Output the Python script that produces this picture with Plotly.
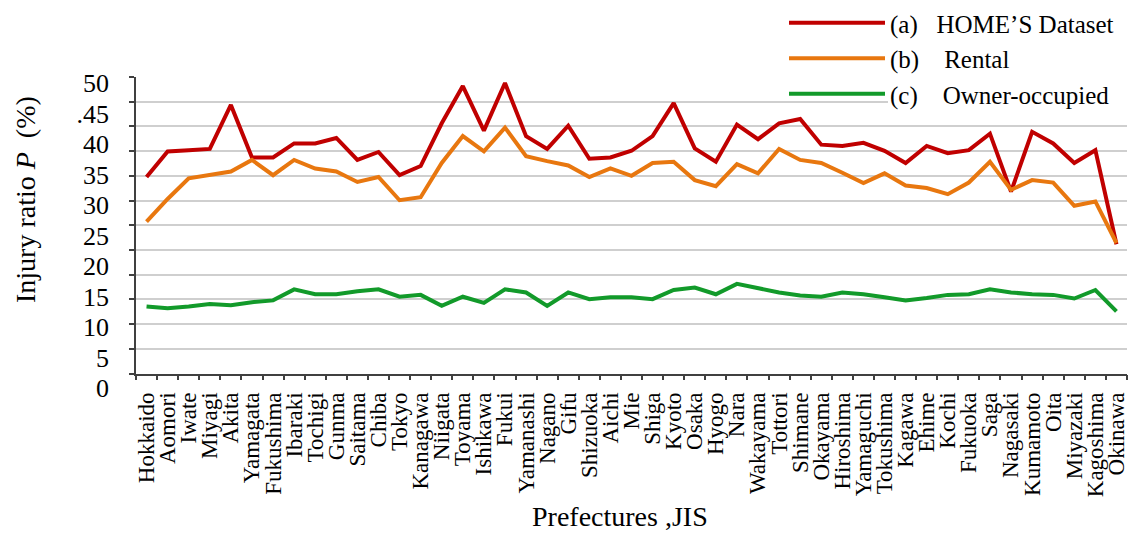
import plotly.graph_objects as go

# Prefectures in JIS order
prefectures = [
    "Hokkaido", "Aomori", "Iwate", "Miyagi", "Akita", "Yamagata", "Fukushima",
    "Ibaraki", "Tochigi", "Gunma", "Saitama", "Chiba", "Tokyo", "Kanagawa",
    "Niigata", "Toyama", "Ishikawa", "Fukui", "Yamanashi", "Nagano", "Gifu",
    "Shizuoka", "Aichi", "Mie", "Shiga", "Kyoto", "Osaka", "Hyogo", "Nara",
    "Wakayama", "Tottori", "Shimane", "Okayama", "Hiroshima", "Yamaguchi",
    "Tokushima", "Kagawa", "Ehime", "Kochi", "Fukuoka", "Saga", "Nagasaki",
    "Kumamoto", "Oita", "Miyazaki", "Kagoshima", "Okinawa",
]

# Injury ratio P (%)
homes_dataset = [
    34.6, 38.8, 39.0, 39.2, 46.4, 37.8, 37.8, 40.1, 40.1, 41.0, 37.4, 38.7,
    34.9, 36.4, 43.4, 49.5, 42.2, 50.0, 41.3, 39.2, 43.0, 37.6, 37.8, 38.9,
    41.3, 46.7, 39.3, 37.1, 43.2, 40.8, 43.4, 44.1, 39.9, 39.7, 40.2, 38.9,
    36.9, 39.7, 38.5, 39.0, 41.7, 32.2, 42.0, 40.1, 36.9, 39.0, 23.6,
]
rental = [
    27.3, 31.0, 34.4, 35.0, 35.5, 37.4, 34.9, 37.4, 36.0, 35.5, 33.8, 34.6,
    30.8, 31.3, 36.9, 41.3, 38.8, 42.7, 38.0, 37.2, 36.5, 34.6, 36.0, 34.8,
    36.9, 37.1, 34.1, 33.1, 36.7, 35.2, 39.2, 37.4, 36.9, 35.3, 33.6, 35.2,
    33.2, 32.8, 31.8, 33.7, 37.1, 32.5, 34.1, 33.7, 29.9, 30.6, 23.8,
]
owner_occupied = [
    13.4, 13.1, 13.4, 13.8, 13.6, 14.1, 14.4, 16.2, 15.4, 15.4, 15.9, 16.2,
    15.0, 15.3, 13.5, 15.0, 14.0, 16.2, 15.7, 13.5, 15.7, 14.6, 14.9, 14.9,
    14.6, 16.1, 16.5, 15.4, 17.1, 16.4, 15.7, 15.2, 15.0, 15.7, 15.4, 14.9,
    14.4, 14.8, 15.3, 15.4, 16.2, 15.7, 15.4, 15.3, 14.7, 16.1, 12.6,
]

series_names = [
    "(a)\u00a0\u00a0\u00a0HOME\u2019S Dataset",
    "(b)\u00a0\u00a0\u00a0\u00a0Rental",
    "(c)\u00a0\u00a0\u00a0\u00a0Owner-occupied",
]
series_colors = ["#C00000", "#E8770F", "#129A2A"]

y_tick_values = [0, 5, 10, 15, 20, 25, 30, 35, 40, 45, 50]
y_tick_text = ["0", "5", "10", "15", "20", "25", "30", "35", "40", ".45", "50"]

W, H = 1131, 534
SERIF = "Liberation Serif, Times New Roman, serif"

# Pixel layout of the plotting box
left_px, right_px = 136, 1127
box_top_px, box_bottom_px = 77, 373.5


def frac_y(px):
    return (H - px) / H


def frac_x(px):
    return (px - left_px) / (right_px - left_px)


# Value scale of the data axis: value v sits at pixel 388.3 - 6.106 * v
zero_px, px_per_unit = 388.3, 6.106
data_top_px, data_bottom_px = 60, 395
data_range = [(zero_px - data_bottom_px) / px_per_unit,
              (zero_px - data_top_px) / px_per_unit]

fig = go.Figure()
# empty trace that opens the framed grid panel
fig.add_trace(go.Scatter(x=[], y=[], yaxis="y", showlegend=False,
                         hoverinfo="skip"))
for name, vals, col in zip(series_names,
                           [homes_dataset, rental, owner_occupied],
                           series_colors):
    fig.add_trace(go.Scatter(
        x=prefectures, y=vals, name=name, mode="lines",
        line=dict(color=col, width=4), yaxis="y2",
    ))

LEGEND_ITEM_W = 96

fig.update_layout(
    width=W, height=H,
    margin=dict(l=left_px, r=W - right_px, t=0, b=0, autoexpand=False),
    paper_bgcolor="white", plot_bgcolor="rgba(0,0,0,0)",
    font=dict(family=SERIF, color="black"),
    showlegend=True,
    legend=dict(
        x=frac_x(890 - LEGEND_ITEM_W - 10), xanchor="left",
        y=1.0, yanchor="top",
        font=dict(family=SERIF, size=25, color="black"),
        bgcolor="rgba(0,0,0,0)", tracegroupgap=0, itemwidth=LEGEND_ITEM_W,
    ),
    xaxis=dict(
        domain=[0, 1], anchor="y",
        type="category", range=[-0.5, len(prefectures) - 0.5],
        tickmode="array", tickvals=prefectures, ticktext=prefectures,
        tickangle=-90,
        tickfont=dict(family=SERIF, size=23, color="black"),
        ticklabelstandoff=8,
        showline=True, linecolor="#404040", linewidth=1.5,
        ticks="outside", ticklen=5, tickcolor="#404040", tickwidth=1.5,
        tickson="boundaries", showgrid=False, zeroline=False,
        automargin=False,
    ),
    # grid / frame axis
    yaxis=dict(
        domain=[frac_y(box_bottom_px), frac_y(box_top_px)], anchor="x",
        range=[0, 12], dtick=1, showticklabels=False,
        showgrid=True, gridcolor="#CFCFCF", gridwidth=2,
        showline=True, linecolor="#404040", linewidth=1.5,
        ticks="outside", ticklen=5, tickcolor="#404040", tickwidth=1.5,
        zeroline=False, automargin=False, fixedrange=True,
    ),
    # value axis carrying the data and the labels
    yaxis2=dict(
        domain=[frac_y(data_bottom_px), frac_y(data_top_px)], anchor="x",
        range=data_range, tickvals=y_tick_values, ticktext=y_tick_text,
        tickfont=dict(family=SERIF, size=26, color="black"),
        ticks="", showgrid=False, showline=False, zeroline=False,
        ticklabelstandoff=26, automargin=False,
    ),
)

# white backing behind the legend labels
fig.add_shape(
    type="rect", xref="paper", yref="paper",
    x0=frac_x(888), x1=frac_x(W),
    y0=frac_y(108), y1=1.0,
    fillcolor="white", line=dict(width=0), layer="above",
)

fig.add_annotation(
    text="Injury ratio <i>P</i>\u00a0 (%)", textangle=-90,
    xref="paper", yref="paper",
    x=frac_x(25), y=frac_y(200),
    xanchor="center", yanchor="middle", showarrow=False,
    font=dict(family=SERIF, size=28, color="black"),
)
fig.add_annotation(
    text="Prefectures ,JIS",
    xref="paper", yref="paper",
    x=frac_x(620), y=0,
    xanchor="center", yanchor="bottom", showarrow=False,
    font=dict(family=SERIF, size=28, color="black"),
)

fig.write_html("out.html")
